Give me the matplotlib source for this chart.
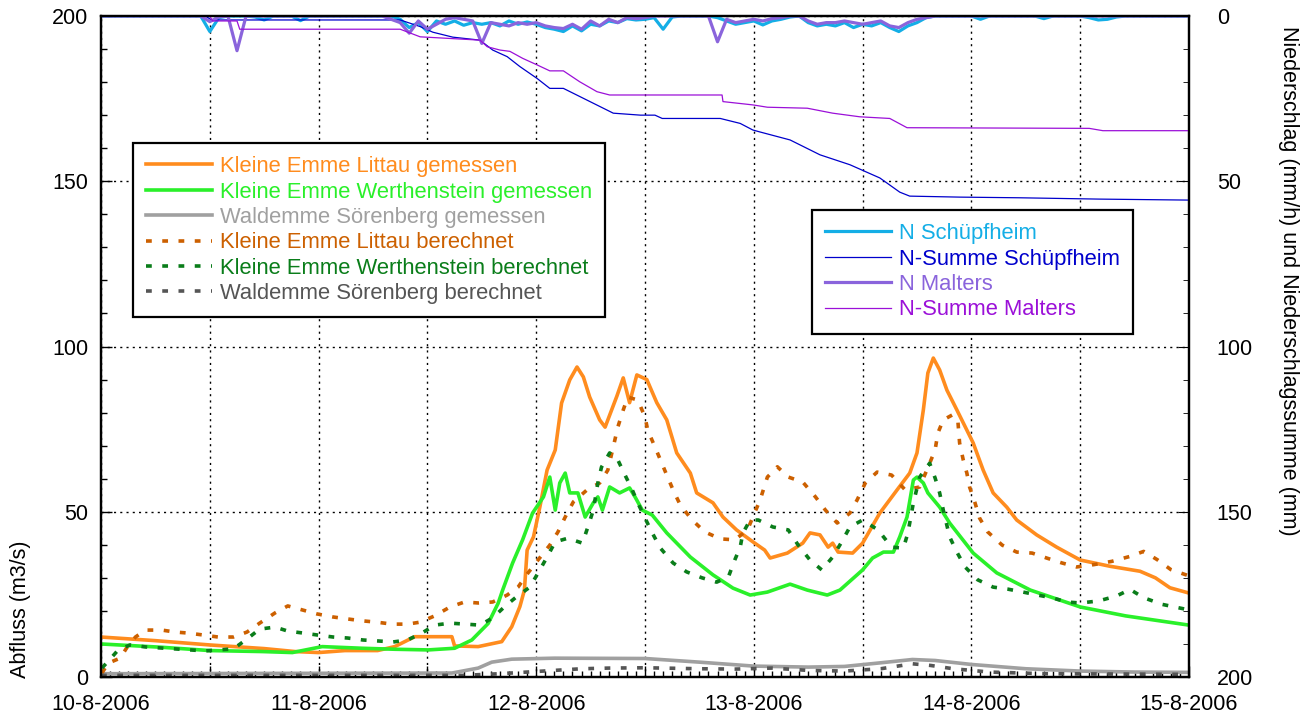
import numpy as np
import matplotlib
matplotlib.use("Agg")
import matplotlib.pyplot as plt
from matplotlib.ticker import MultipleLocator, FuncFormatter

plt.rcParams['font.family'] = ['Liberation Sans', 'DejaVu Sans']

# Abfluss (m3/s) - time in hours since 10-8-2006 00:00
t_littau = [0, 6.0, 12.0, 18.0, 21.4, 24.0, 26.9, 30.5, 32.4, 34.6, 36.1, 38.7, 39.0, 41.6, 44.2,
            45.3, 46.2, 46.7, 47.0, 47.7, 48.4, 49.2, 50.1, 50.8, 51.7, 52.5, 53.2, 53.9, 55.0,
            55.6, 56.9, 57.6, 58.3, 59.1, 60.2, 61.3, 62.4, 63.5, 65.0, 65.7, 67.5, 68.6, 70.1,
            71.9, 73.2, 73.8, 75.7, 77.4, 78.2, 79.3, 80.2, 80.7, 81.3, 82.9, 84.0, 85.9, 87.8,
            89.2, 90.0, 90.7, 91.2, 91.8, 92.5, 93.3, 94.4, 95.5, 96.2, 97.3, 98.4, 99.9, 101.0,
            103.2, 105.4, 108.0, 111.3, 114.6, 116.3, 117.9, 120]
q_littau = [12.1, 11.0, 9.7, 8.6, 7.7, 7.4, 8.0, 8.0, 9.2, 12.2, 12.2, 12.2, 9.4, 9.2, 10.7,
            15.2, 21.3, 26.3, 38.4, 42.4, 51.4, 62.6, 68.7, 82.9, 89.9, 93.8, 90.8, 84.7, 77.8,
            75.6, 85.0, 90.5, 83.0, 91.4, 90.0, 83.0, 77.8, 67.8, 61.7, 55.7, 52.7, 48.4, 44.5,
            40.9, 38.4, 36.0, 37.5, 40.5, 43.6, 43.0, 39.3, 40.5, 37.8, 37.5, 40.5, 49.6, 56.6,
            61.7, 67.8, 80.8, 92.0, 96.5, 92.9, 86.8, 80.8, 74.7, 70.8, 62.6, 55.7, 51.4, 47.5,
            43.0, 39.3, 35.4, 33.5, 32.0, 30.0, 27.0, 25.4]

t_werth = [0, 6.7, 12.0, 17.8, 21.1, 24.4, 28.8, 32.4, 36.1, 39.0, 40.9, 42.7, 43.8, 44.3, 45.4,
           46.5, 47.6, 48.8, 49.5, 50.1, 50.6, 51.2, 51.7, 52.6, 53.4, 54.3, 54.8, 55.3, 56.1,
           57.2, 58.3, 58.9, 59.7, 60.8, 62.4, 65.0, 67.5, 69.7, 71.6, 73.5, 76.0, 77.9, 80.1,
           81.5, 84.0, 85.1, 86.3, 87.4, 88.1, 88.9, 89.6, 90.0, 90.7, 91.2, 92.5, 93.6, 96.2,
           98.8, 102.5, 108.0, 113.0, 120]
q_werth = [10.0, 9.0, 8.0, 7.7, 7.4, 9.2, 8.7, 8.4, 8.2, 8.7, 11.2, 16.2, 22.3, 26.3, 34.5,
           41.5, 49.6, 54.5, 60.5, 50.5, 58.7, 61.7, 55.7, 55.7, 48.4, 52.7, 54.5, 50.5, 57.5,
           55.7, 57.2, 54.5, 50.5, 49.0, 43.6, 36.3, 30.9, 26.9, 24.8, 25.7, 28.1, 26.3, 24.8,
           26.3, 32.4, 36.0, 37.8, 37.8, 42.4, 48.4, 59.6, 60.5, 58.7, 55.7, 51.4, 46.6, 37.5,
           31.5, 26.3, 21.2, 18.5, 15.7]

t_soer = [0, 38.7, 41.6, 43.1, 45.3, 50.0, 60.0, 66.0, 72.0, 78.0, 82.0, 86.0, 89.5, 92.0, 96.0,
          102.0, 108.0, 114.0, 120]
q_soer = [1.0, 1.2, 2.7, 4.5, 5.4, 5.7, 5.6, 4.5, 3.3, 3.0, 3.2, 4.3, 5.3, 5.0, 3.8,
          2.5, 1.8, 1.5, 1.4]

t_littau_ber = [0.1, 0.8, 2.1, 2.9, 3.8, 4.9, 6.7, 8.2, 9.6, 11.3, 12.9, 14.6, 16.1, 17.5, 19.2,
                20.6, 22.2, 23.8, 25.5, 27.1, 28.8, 30.4, 32.1, 33.8, 35.2, 36.8, 38.5, 40.1,
                41.6, 43.2, 44.8, 46.0, 47.1, 48.2, 49.5, 50.4, 51.2, 52.1, 53.6, 55.0, 55.9,
                56.5, 57.0, 57.6, 58.1, 59.2, 60.0, 60.3, 61.1, 61.7, 62.4, 63.1, 63.9, 65.2,
                66.6, 68.3, 69.9, 71.3, 71.9, 72.7, 73.5, 74.6, 75.8, 77.4, 78.8, 79.9, 81.2,
                82.6, 83.4, 84.3, 85.6, 87.2, 88.7, 90.3, 91.4, 92.0, 92.3, 92.9, 93.9, 94.5,
                94.7, 95.1, 95.5, 95.8, 96.4, 96.9, 97.8, 99.4, 101.0, 102.7, 104.3, 106.0,
                107.6, 109.5, 111.5, 113.5, 115.0, 116.5, 118.0, 120]
q_littau_ber = [1.2, 4.2, 5.7, 9.1, 12.1, 14.2, 14.2, 13.6, 13.3, 12.7, 12.1, 12.1, 13.6, 16.3,
                19.4, 21.5, 20.3, 19.1, 18.2, 17.6, 17.0, 16.6, 16.0, 16.0, 16.6, 18.5, 21.2,
                22.7, 22.4, 22.7, 24.8, 27.2, 31.5, 35.4, 39.9, 43.9, 48.4, 53.0, 56.6, 58.7,
                62.6, 69.6, 75.6, 80.8, 84.7, 83.8, 78.7, 74.7, 69.6, 65.7, 61.1, 56.6, 52.0,
                47.5, 43.9, 41.8, 41.5, 44.5, 48.4, 53.6, 60.5, 63.6, 60.5, 59.0, 54.5, 50.5,
                46.6, 49.6, 53.6, 58.7, 62.0, 61.1, 56.6, 57.5, 64.7, 68.7, 73.8, 77.8, 79.3,
                77.8, 70.8, 65.7, 61.7, 57.5, 52.7, 48.1, 43.9, 39.9, 37.8, 37.5, 36.0, 34.5,
                33.3, 34.0, 35.0, 36.5, 38.0, 35.5, 32.5, 30.6]

t_werth_ber = [0.1, 1.0, 1.9, 3.2, 4.9, 6.5, 8.2, 9.8, 11.5, 12.9, 14.6, 16.1, 17.5, 19.2, 20.6,
               22.3, 23.9, 25.6, 27.2, 28.9, 30.6, 32.2, 33.8, 35.4, 36.8, 38.5, 40.2, 41.8,
               43.2, 44.6, 45.8, 47.3, 48.4, 49.2, 50.1, 51.5, 53.1, 53.7, 54.3, 54.8, 55.2,
               56.1, 57.0, 57.8, 58.6, 59.2, 60.0, 60.8, 61.7, 63.1, 64.6, 66.3, 67.9, 69.2,
               69.9, 70.5, 70.8, 71.6, 72.5, 74.1, 75.8, 76.9, 78.2, 79.5, 80.7, 81.7, 82.6,
               84.0, 85.7, 87.2, 88.5, 89.0, 89.6, 90.3, 91.4, 92.0, 92.5, 92.9, 93.6, 94.4,
               95.3, 96.7, 98.4, 100.0, 101.7, 103.3, 105.0, 106.5, 108.0, 110.0, 112.0, 113.5,
               115.0, 117.0, 120]
q_werth_ber = [2.7, 5.4, 8.2, 9.7, 9.1, 8.8, 8.5, 8.2, 7.9, 8.2, 8.5, 11.5, 14.5, 15.1, 13.9,
               13.3, 12.7, 12.1, 11.8, 11.2, 10.9, 10.6, 11.2, 13.3, 15.7, 16.3, 16.0, 15.7,
               17.9, 21.5, 24.2, 27.2, 32.4, 36.3, 40.9, 42.0, 40.5, 45.4, 50.5, 58.7, 63.5,
               67.8, 65.7, 61.1, 56.6, 52.7, 48.1, 43.6, 39.0, 34.5, 31.8, 30.0, 28.7, 30.3,
               35.4, 39.3, 43.6, 47.5, 47.5, 45.4, 44.5, 39.9, 35.4, 32.4, 36.3, 40.9, 45.4,
               47.5, 44.5, 39.3, 39.0, 43.6, 52.7, 60.5, 64.7, 60.2, 55.7, 50.5, 42.4, 37.8,
               33.3, 29.4, 27.2, 26.6, 25.7, 24.8, 23.9, 22.7, 22.4, 23.0, 24.5, 26.5,
               24.0, 22.0, 20.3]

t_soer_ber = [0, 40.0, 44.0, 47.0, 50.0, 53.0, 56.0, 60.0, 66.0, 70.0, 74.0, 78.0, 82.0, 86.0,
              89.5, 91.5, 94.0, 98.0, 104.0, 120]
q_soer_ber = [0.5, 0.5, 1.0, 1.5, 2.0, 2.5, 2.7, 2.8, 2.5, 2.4, 2.7, 2.0, 1.8, 2.5,
              4.0, 3.5, 2.5, 1.5, 1.0, 0.8]

# Niederschlag (mm/h), hourly values h = 0..120
n_schuepf = [0, 0, 0, 0, 0, 0, 0, 0, 0, 0, 0, 0,
             4.7, 0.5, 0, 0, 0, 0.3, 1.2, 0, 0, 0, 1.4, 0,
             0, 0, 0, 0, 0, 0, 0, 0, 0,
             1.0, 3.5, 2.0, 4.7, 1.5, 2.5, 1.5, 2.8, 2.0, 2.5, 2.0, 3.0, 1.5, 2.5, 1.8,
             2.5, 3.5, 4.0, 4.7, 3.0, 4.5, 2.5, 3.0, 1.5, 2.0, 0.8, 1.2, 1.0, 0.5, 4.0,
             0.3, 0, 0, 0, 0, 0.5, 1.5, 2.5, 2.0, 1.5, 2.7, 1.5, 1.0, 0.3, 0, 2.0, 3.0,
             2.5, 3.0, 2.0, 3.5, 2.5, 3.0, 2.0, 3.5, 4.7, 3.0, 2.0, 0.5,
             0, 0, 0, 0, 0, 1.0, 0, 0, 0, 0, 0, 0, 0.8, 0, 0, 0, 0,
             0.5, 1.2, 1.0, 0.3, 0, 0, 0, 0, 0, 0, 0, 0]
n_malters = [0, 0, 0, 0, 0, 0, 0, 0, 0, 0, 0, 0,
             1.7, 0.3, 0, 10.5, 0,
             0, 0, 0, 0, 0, 0, 0, 0, 0, 0, 0, 0, 0, 0, 0,
             1.0, 2.0, 5.2, 1.5, 4.0, 2.5, 1.0, 0.5, 1.0, 1.5, 8.3, 2.0, 2.5, 3.0, 2.0,
             2.5, 2.0, 3.0, 3.5, 3.8, 2.5, 4.0, 1.5, 3.0, 1.0, 2.0, 0.5, 0.8, 0.5,
             0, 0, 0, 0, 0, 0, 0,
             7.8, 1.0, 2.0, 1.5, 1.0, 1.5, 0.8, 0.5, 0, 0, 1.5, 2.5, 2.0, 2.0, 1.5, 2.0,
             2.5, 2.0, 1.5, 3.0, 3.5, 2.0, 1.0, 0.5,
             0, 0, 0, 0, 0, 0, 0, 0, 0, 0, 0, 0, 0, 0, 0, 0, 0, 0, 0, 0, 0, 0, 0, 0,
             0, 0, 0, 0, 0]

# Niederschlagssumme (mm)
t_sum_schuepf = [0, 11.5, 12.2, 33.0, 35.2, 36.6, 38.8, 41.8, 43.2, 44.8, 46.2, 48.1, 49.5, 51.0,
                 52.1, 54.3, 56.5, 59.5, 61.1, 61.9, 68.3, 70.5, 71.9, 72.7, 76.0, 79.3, 82.6,
                 85.9, 88.1, 89.2, 94.7, 101.3, 110.1, 120]
sum_schuepf = [0, 0, 1.2, 1.2, 3.2, 4.9, 6.4, 7.3, 10.3, 12.3, 15.3, 18.9, 21.9, 21.9,
               23.4, 26.4, 29.4, 30.0, 30.0, 31.0, 31.0, 32.5, 34.5, 35.1, 37.5, 42.0, 45.0,
               49.0, 53.3, 54.5, 54.8, 55.0, 55.4, 55.7]
t_sum_malters = [0, 12.0, 12.3, 15.0, 15.3, 33.0, 35.2, 38.5, 41.8, 42.6, 44.0, 45.1, 46.5,
                 48.1, 49.5, 51.0, 52.8, 54.7, 56.1, 68.5, 68.6, 71.9, 73.5, 77.9, 80.7, 83.7,
                 87.0, 88.9, 109.0, 110.5, 120]
sum_malters = [0, 0, 1.5, 1.5, 4.0, 4.0, 6.3, 6.8, 7.3, 9.3, 10.3, 10.7, 12.8,
               14.8, 16.6, 16.6, 19.9, 22.9, 23.9, 23.9, 25.9, 26.9, 27.6, 27.9, 29.4, 30.5,
               31.0, 33.8, 34.0, 34.7, 34.7]

hours = np.arange(len(n_schuepf))

fig = plt.figure(figsize=(13.05, 7.24), dpi=100)
ax = fig.add_axes([0.0774, 0.0649, 0.8337, 0.913])
ax2 = ax.twinx()

dot = (0, (1.6, 2.9))
ax.plot(t_littau, q_littau, color='#ff8c1e', lw=2.6, label='Kleine Emme Littau gemessen')
ax.plot(t_werth, q_werth, color='#2af02a', lw=2.6, label='Kleine Emme Werthenstein gemessen')
ax.plot(t_soer, q_soer, color='#a0a0a0', lw=2.6, label='Waldemme Sörenberg gemessen')
ax.plot(t_littau_ber, q_littau_ber, color='#cc6000', lw=2.6, ls=dot, label='Kleine Emme Littau berechnet')
ax.plot(t_werth_ber, q_werth_ber, color='#0a7d1a', lw=2.6, ls=dot, label='Kleine Emme Werthenstein berechnet')
ax.plot(t_soer_ber, q_soer_ber, color='#555555', lw=2.6, ls=dot, label='Waldemme Sörenberg berechnet')

ax2.plot(hours, n_schuepf, color='#14aee6', lw=2.3, label='N Schüpfheim')
ax2.plot(t_sum_schuepf, sum_schuepf, color='#0000cc', lw=0.9, label='N-Summe Schüpfheim')
ax2.plot(hours, n_malters, color='#8a64dc', lw=2.3, label='N Malters')
ax2.plot(t_sum_malters, sum_malters, color='#9b10d8', lw=0.9, label='N-Summe Malters')

ax.set_xlim(0, 120)
ax.set_ylim(0, 200)
ax2.set_ylim(200, 0)

ax.xaxis.set_major_locator(MultipleLocator(12))
ax.xaxis.set_minor_locator(MultipleLocator(1))
ax.xaxis.set_major_formatter(FuncFormatter(
    lambda v, p: f"{10 + int(round(v)) // 24}-8-2006" if int(round(v)) % 24 == 0 else ""))
ax.yaxis.set_major_locator(MultipleLocator(50))
ax.yaxis.set_minor_locator(MultipleLocator(10))
ax2.yaxis.set_major_locator(MultipleLocator(50))
ax2.yaxis.set_minor_locator(MultipleLocator(10))

ax.grid(True, which='major', color='black', ls=(0, (1.5, 3)), lw=1.0)
ax.tick_params(axis='both', which='both', direction='in', top=False, right=False, labelsize=15.5)
ax.tick_params(axis='both', which='major', length=8, width=1)
ax.tick_params(axis='both', which='minor', length=4, width=1)
ax.tick_params(axis='x', pad=12)
ax.tick_params(axis='y', pad=9)
ax2.tick_params(axis='y', which='both', direction='in', labelsize=15.5, pad=20)
ax2.tick_params(axis='y', which='major', length=8)
ax2.tick_params(axis='y', which='minor', length=4)

for a in (ax, ax2):
    for s in a.spines.values():
        s.set_linewidth(1.6)

fig.text(0.016, 0.158, 'Abfluss (m3/s)', rotation=90, ha='center', va='center', fontsize=15.5)
fig.text(0.987, 0.612, 'Niederschlag (mm/h) und Niederschlagssumme (mm)', rotation=270,
         ha='center', va='center', fontsize=15.5)

leg_style = dict(bbox_transform=fig.transFigure, fontsize=15.8, labelcolor='linecolor',
                 handlelength=3.0, handletextpad=0.35, labelspacing=0.2, borderpad=0.6,
                 borderaxespad=0, fancybox=False, framealpha=1, edgecolor='black',
                 loc='upper left')
leg1 = ax.legend(bbox_to_anchor=(133 / 1305, 1 - 143 / 724), **leg_style)
leg1.get_frame().set_linewidth(1.6)
leg2 = ax2.legend(bbox_to_anchor=(812 / 1305, 1 - 210 / 724), **leg_style)
leg2.get_frame().set_linewidth(1.6)

fig.savefig('out.png', dpi=100)
